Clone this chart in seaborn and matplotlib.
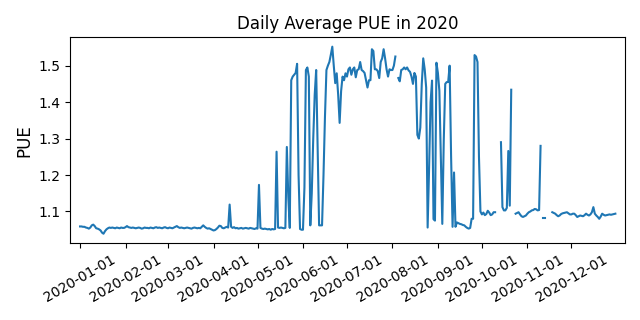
import matplotlib
matplotlib.use('Agg')
import matplotlib.pyplot as plt
import matplotlib.dates as mdates
import numpy as np
import pandas as pd
import seaborn as sns

nan = np.nan

# daily average PUE per month (NaN = no data that day)
jan = [1.059, 1.059, 1.058, 1.058, 1.056, 1.055, 1.053, 1.056, 1.062, 1.064, 1.060, 1.054, 1.053, 1.051, 1.048, 1.042,
       1.039, 1.046, 1.051, 1.054, 1.056, 1.055, 1.056, 1.055, 1.054, 1.056, 1.055, 1.054, 1.056, 1.055, 1.055]
feb = [1.057, 1.060, 1.057, 1.056, 1.055, 1.056, 1.055, 1.054, 1.055, 1.056, 1.055, 1.053, 1.054, 1.056, 1.055, 1.055,
       1.054, 1.056, 1.055, 1.054, 1.056, 1.057, 1.055, 1.056, 1.055, 1.054, 1.056, 1.057, 1.055]
mar = [1.054, 1.056, 1.055, 1.054, 1.056, 1.058, 1.060, 1.057, 1.055, 1.056, 1.055, 1.054, 1.055, 1.056, 1.055, 1.054,
       1.053, 1.055, 1.056, 1.055, 1.054, 1.055, 1.054, 1.058, 1.062, 1.058, 1.055, 1.053, 1.054, 1.052, 1.050]
apr = [1.048, 1.049, 1.052, 1.056, 1.061, 1.060, 1.055, 1.054, 1.056, 1.058, 1.056, 1.119, 1.058, 1.055, 1.057, 1.054,
       1.055, 1.053, 1.054, 1.055, 1.053, 1.054, 1.055, 1.054, 1.053, 1.055, 1.054, 1.053, 1.052, 1.054]
may = [1.053, 1.173, 1.055, 1.053, 1.052, 1.053, 1.052, 1.051, 1.052, 1.050, 1.052, 1.051, 1.052, 1.264, 1.056, 1.055,
       1.056, 1.055, 1.054, 1.055, 1.277, 1.14, 1.055, 1.46, 1.47, 1.475, 1.48, 1.505, 1.20, 1.052, 1.050]
jun = [1.050, 1.166, 1.488, 1.495, 1.47, 1.062, 1.15, 1.30, 1.42, 1.488, 1.28, 1.062, 1.062, 1.062, 1.20, 1.36,
       1.488, 1.50, 1.51, 1.53, 1.552, 1.50, 1.452, 1.479, 1.42, 1.343, 1.43, 1.47, 1.46, 1.479]
jul = [1.47, 1.49, 1.495, 1.475, 1.49, 1.495, 1.468, 1.488, 1.49, 1.51, 1.488, 1.485, 1.48, 1.46, 1.44, 1.46,
       1.46, 1.545, 1.54, 1.49, 1.49, 1.485, 1.466, 1.51, 1.52, 1.545, 1.52, 1.49, 1.47, 1.49, 1.488]
aug = [1.488, 1.50, 1.525, nan, 1.466, 1.457, 1.488, 1.49, 1.495, 1.49, 1.495, 1.487, 1.483, 1.47, 1.45, 1.48,
       1.47, 1.31, 1.30, 1.33, 1.45, 1.52, 1.49, 1.44, 1.056, 1.22, 1.40, 1.459, 1.079, 1.075, 1.508]
sep = [1.48, 1.431, 1.25, 1.066, 1.296, 1.45, 1.455, 1.455, 1.50, 1.25, 1.058, 1.207, 1.058, 1.07, 1.068, 1.066,
       1.065, 1.063, 1.062, 1.058, 1.055, 1.053, 1.055, 1.08, 1.08, 1.529, 1.525, 1.51, 1.25, 1.10]
oct = [1.092, 1.097, 1.09, 1.093, 1.102, 1.097, 1.09, 1.092, 1.098, 1.098, nan, nan, nan, 1.29, 1.112, 1.103,
       1.103, 1.11, 1.266, 1.116, 1.434, nan, nan, 1.094, 1.096, 1.098, 1.092, 1.087, 1.085, 1.087, 1.089]
nov = [1.094, 1.098, 1.10, 1.103, 1.104, 1.107, 1.106, 1.103, 1.104, 1.28, nan, 1.083, 1.083, nan, nan, nan,
       nan, 1.098, 1.096, 1.094, 1.09, 1.087, 1.089, 1.093, 1.095, 1.096, 1.097, 1.098, 1.095, 1.092]
dec = [1.092, 1.094, 1.094, 1.09, 1.085, 1.087, 1.089, 1.088, 1.087, 1.09, 1.094, 1.091, 1.089, 1.092, 1.098, 1.112,
       1.094, 1.089, 1.085, 1.080, 1.086, 1.094, 1.091, 1.089, 1.09, 1.091, 1.092, 1.091, 1.092, 1.093, 1.094]

pue = jan + feb + mar + apr + may + jun + jul + aug + sep + oct + nov + dec
dates = pd.date_range('2020-01-01', '2020-12-31', freq='D')
month_ticks = pd.date_range('2020-01-01', '2020-12-01', freq='MS')

df = pd.DataFrame({'date': dates, 'pue': pue})
# break the line where days are missing
df['seg'] = df['pue'].isna().cumsum()
df = df.dropna()

fig, ax = plt.subplots(figsize=(6.4, 3.2), dpi=100)
sns.lineplot(data=df, x='date', y='pue', units='seg', estimator=None, color='#1f77b4', linewidth=1.5, ax=ax)

ax.margins(x=0.018)
ax.set_xticks(month_ticks)
ax.xaxis.set_major_formatter(mdates.DateFormatter('%Y-%m-%d'))
plt.setp(ax.get_xticklabels(), rotation=30, ha='center')

ax.set_title('Daily Average PUE in 2020')
ax.set_xlabel('')
ax.set_ylabel('PUE', fontsize=12)

fig.tight_layout()
fig.savefig('out.png')
